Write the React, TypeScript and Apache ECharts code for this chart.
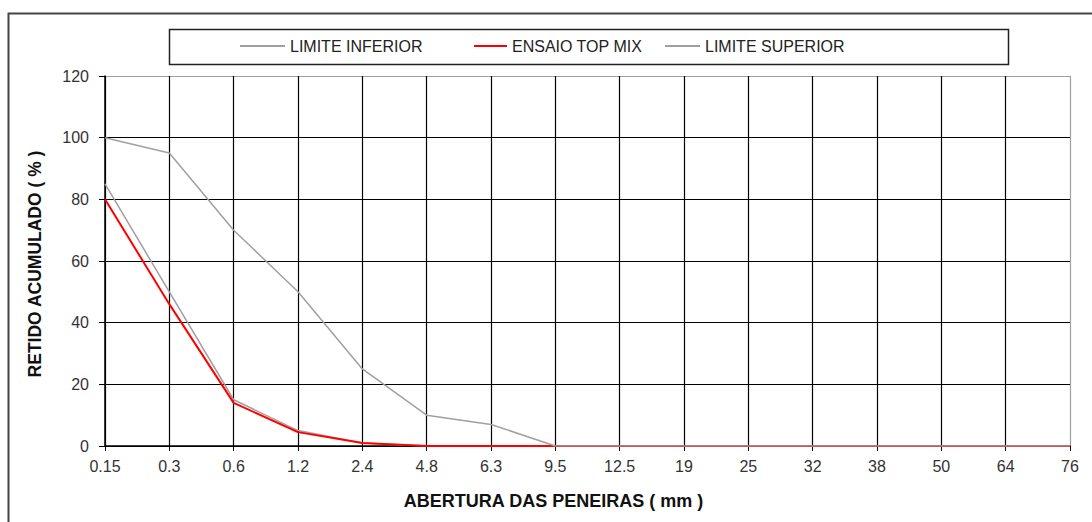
import React, { useEffect, useRef } from "react";
import * as echarts from "echarts";

const categories = ["0.15", "0.3", "0.6", "1.2", "2.4", "4.8", "6.3", "9.5", "12.5", "19", "25", "32", "38", "50", "64", "76"];
const limiteInferior = [85, 50, 15, 5, 1, 0, 0, 0, 0, 0, 0, 0, 0, 0, 0, 0];
const ensaioTopMix = [80, 46, 14, 4.5, 1, 0, 0, 0, 0, 0, 0, 0, 0, 0, 0, 0];
const limiteSuperior = [100, 95, 70, 50, 25, 10, 7, 0, 0, 0, 0, 0, 0, 0, 0, 0];
const yTicks = { min: 0, max: 120, interval: 20 };

const FONT = "'Liberation Sans', Arial, sans-serif";

export default function App() {
  const ref = useRef<HTMLDivElement>(null);
  useEffect(() => {
    if (!ref.current) return;
    const chart = echarts.init(ref.current, null, { renderer: "svg" });
    const xColors = categories.map((_, i) => (i === categories.length - 1 ? "#a0a0a0" : "#000"));
    const nY = (yTicks.max - yTicks.min) / yTicks.interval + 1;
    const yColors = Array.from({ length: nY }, (_, i) => (i === nY - 1 ? "#a0a0a0" : "#000"));
    const legendText = { color: "#222", fontSize: 16, fontFamily: FONT };
    const legendBase = { top: 38, padding: 0, icon: "rect", itemHeight: 2, itemGap: 5, textStyle: legendText };
    chart.setOption({
      animation: false,
      backgroundColor: "#fff",
      graphic: [
        { type: "rect", shape: { x: 8.5, y: 13.5, width: 1200, height: 700 }, style: { fill: "none", stroke: "#444", lineWidth: 2 }, z: 0 },
        { type: "rect", shape: { x: 169.5, y: 29.5, width: 839, height: 35 }, style: { fill: "none", stroke: "#222", lineWidth: 1.5 }, z: 0 },
      ],
      legend: [
        { ...legendBase, left: 240, itemWidth: 45, data: ["LIMITE INFERIOR"] },
        { ...legendBase, left: 474, itemWidth: 33, data: ["ENSAIO TOP MIX"] },
        { ...legendBase, left: 665, itemWidth: 35, data: ["LIMITE SUPERIOR"] },
      ],
      grid: { left: 105, right: 22, top: 76, bottom: 76 },
      xAxis: {
        type: "category",
        data: categories,
        boundaryGap: false,
        name: "ABERTURA DAS PENEIRAS ( mm )",
        nameLocation: "middle",
        nameGap: 46,
        nameTextStyle: { fontFamily: FONT, fontSize: 18, fontWeight: "bold", color: "#111", padding: [0, 68, 0, 0] },
        axisLine: { show: true, lineStyle: { color: "#000", width: 1.5 } },
        axisTick: { show: true, interval: 0, length: 5, lineStyle: { color: "#000" } },
        axisLabel: { interval: 0, fontFamily: FONT, fontSize: 16, color: "#333", margin: 12 },
        splitLine: { show: true, interval: 0, lineStyle: { color: xColors, width: 1.2 } },
      },
      yAxis: {
        type: "value",
        min: yTicks.min,
        max: yTicks.max,
        interval: yTicks.interval,
        name: "RETIDO ACUMULADO ( % )",
        nameLocation: "middle",
        nameGap: 61,
        nameTextStyle: { fontFamily: FONT, fontSize: 17.5, fontWeight: "bold", color: "#111", padding: [0, 6, 0, 0] },
        axisLine: { show: true, lineStyle: { color: "#000", width: 1.5 } },
        axisTick: { show: true, length: 6, lineStyle: { color: "#000" } },
        axisLabel: { fontFamily: FONT, fontSize: 16, color: "#333", margin: 16 },
        splitLine: { show: true, lineStyle: { color: yColors, width: 1.2 } },
      },
      series: [
        { name: "LIMITE INFERIOR", type: "line", data: limiteInferior, symbol: "none", lineStyle: { color: "#a0a0a0", width: 1.5 }, itemStyle: { color: "#a0a0a0" }, z: 3 },
        { name: "ENSAIO TOP MIX", type: "line", data: ensaioTopMix, symbol: "none", lineStyle: { color: "#ff0000", width: 2 }, itemStyle: { color: "#ff0000" }, z: 4 },
        { name: "LIMITE SUPERIOR", type: "line", data: limiteSuperior, symbol: "none", lineStyle: { color: "#a0a0a0", width: 1.5 }, itemStyle: { color: "#a0a0a0" }, z: 5 },
      ],
    });
    return () => chart.dispose();
  }, []);
  return <div ref={ref} style={{ width: 1092, height: 522, position: "absolute", left: 0, top: 0 }} />;
}
